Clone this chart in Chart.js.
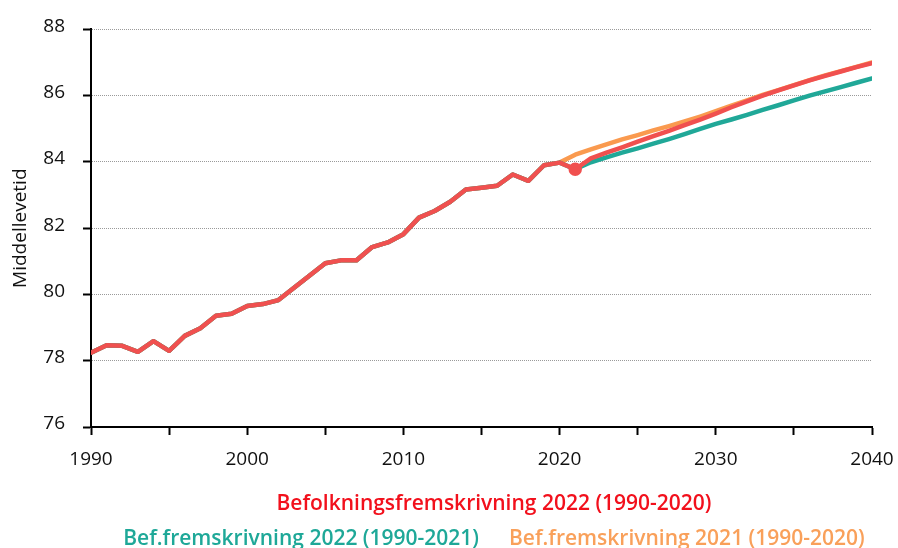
<!DOCTYPE html>
<html>
<head>
<meta charset="utf-8">
<script src="https://cdn.jsdelivr.net/npm/chart.js@4"></script>
<style>
  html, body { margin: 0; padding: 0; background: #fff; }
  #wrap { position: relative; width: 898px; height: 548px; overflow: hidden; }
  .leg { position: absolute; left: 0; width: 988px; display: flex; justify-content: center;
         font-family: "Open Sans", sans-serif; font-weight: 600; font-size: 21px; line-height: 30px; white-space: nowrap; }
  .leg span { margin: 0 15px; }
</style>
</head>
<body>
<div id="wrap">
  <canvas id="chart"></canvas>
  <div class="leg" style="top:487px"><span style="color:#f2101c">Befolkningsfremskrivning 2022 (1990-2020)</span></div>
  <div class="leg" style="top:522px"><span style="color:#1ea898">Bef.fremskrivning 2022 (1990-2021)</span><span style="color:#f9a05a">Bef.fremskrivning 2021 (1990-2020)</span></div>
</div>
<script>
// observed life expectancy 1990-2020
const historyYears = [];
for (let y = 1990; y <= 2020; y++) historyYears.push(y);
const history = [78.24, 78.47, 78.45, 78.27, 78.59, 78.30, 78.75, 78.98, 79.36, 79.42,
  79.65, 79.71, 79.83, 80.20, 80.57, 80.94, 81.03, 81.03, 81.43, 81.57,
  81.82, 82.32, 82.52, 82.80, 83.17, 83.22, 83.28, 83.62, 83.43, 83.90, 83.98];

const observed2021 = 83.78;

// projections
const projYears22 = [];
for (let y = 2022; y <= 2040; y++) projYears22.push(y);
const proj2022 = [84.11, 84.28, 84.44, 84.61, 84.78, 84.94, 85.11, 85.28, 85.46, 85.65,
  85.83, 86.00, 86.16, 86.31, 86.46, 86.60, 86.73, 86.86, 86.98];
const proj2022b = [83.99, 84.14, 84.28, 84.41, 84.55, 84.69, 84.84, 85.00, 85.15, 85.28,
  85.42, 85.57, 85.71, 85.86, 86.00, 86.13, 86.26, 86.39, 86.52];

const projYears21 = [];
for (let y = 2021; y <= 2040; y++) projYears21.push(y);
const proj2021 = [84.22, 84.38, 84.53, 84.68, 84.81, 84.95, 85.08, 85.22, 85.37, 85.53,
  85.70, 85.86, 86.02, 86.17, 86.32, 86.47, 86.61, 86.74, 86.87, 87.00];

const yTicks = [76, 78, 80, 82, 84, 86, 88];

function toPoints(years, vals) {
  return years.map((x, i) => ({ x: x, y: vals[i] }));
}
const histPts = toPoints(historyYears, history);

const redData = histPts.concat([{ x: 2021, y: observed2021 }], toPoints(projYears22, proj2022));
const tealData = histPts.concat([{ x: 2021, y: observed2021 }], toPoints(projYears22, proj2022b));
const orangeData = histPts.concat(toPoints(projYears21, proj2021));

const font = "'Open Sans', sans-serif";

function line(label, data, color) {
  return {
    label: label,
    data: data,
    borderColor: color,
    backgroundColor: color,
    borderWidth: 4.5,
    pointRadius: 0,
    tension: 0,
    borderCapStyle: 'round',
    borderJoinStyle: 'round'
  };
}

const red = line('Befolkningsfremskrivning 2022 (1990-2020)', redData, '#f0504f');
red.pointRadius = ctx => (ctx.raw && ctx.raw.x === 2021 ? 4.5 : 0);

new Chart(document.getElementById('chart'), {
  type: 'line',
  data: {
    datasets: [
      red,
      line('Bef.fremskrivning 2022 (1990-2021)', tealData, '#20a898'),
      line('Bef.fremskrivning 2021 (1990-2020)', orangeData, '#fa9a4f')
    ]
  },
  options: {
    responsive: true,
    maintainAspectRatio: false,
    animation: false,
    layout: { padding: { left: 0, top: 27, right: 26, bottom: 0 } },
    plugins: { legend: { display: false }, tooltip: { enabled: false } },
    scales: {
      x: {
        type: 'linear',
        min: 1990,
        max: 2040,
        afterFit: s => { s.height = 121; s.paddingLeft = 0; s.paddingRight = 0; },
        border: { color: '#000', width: 2 },
        grid: { drawOnChartArea: false, tickLength: 8, tickColor: '#000', tickWidth: 2 },
        ticks: {
          stepSize: 5,
          autoSkip: false,
          maxRotation: 0,
          padding: 13,
          color: '#111',
          font: { family: font, size: 19 },
          callback: v => (v % 10 === 0 ? String(v) : '')
        }
      },
      y: {
        min: yTicks[0],
        max: yTicks[yTicks.length - 1],
        afterFit: s => { s.width = 91; },
        afterBuildTicks: s => { s.ticks = yTicks.map(v => ({ value: v })); },
        border: { color: '#000', width: 2, dash: [1, 1] },
        grid: { color: '#9a9a9a', lineWidth: 1, tickLength: 8, tickColor: '#000', tickWidth: 2 },
        ticks: {
          padding: 18,
          labelOffset: -3,
          color: '#111',
          font: { family: font, size: 19 }
        },
        title: {
          display: true,
          text: 'Middellevetid',
          color: '#111',
          font: { family: font, size: 19 },
          padding: { top: 9 }
        }
      }
    }
  }
});
</script>
</body>
</html>
